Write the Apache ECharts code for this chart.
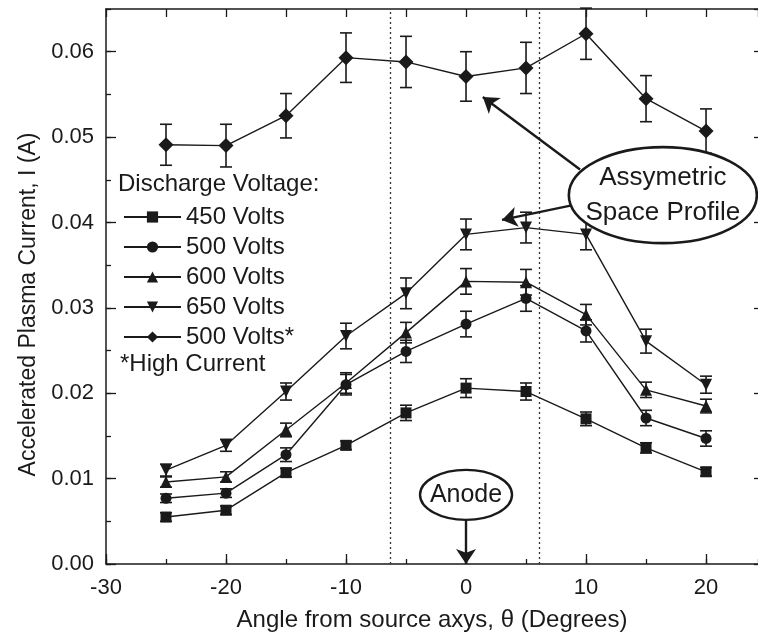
<!DOCTYPE html>
<html>
<head>
<meta charset="utf-8">
<script src="https://cdn.jsdelivr.net/npm/echarts@6/dist/echarts.min.js"></script>
<style>
html,body{margin:0;padding:0;background:#fff;}
#chart{width:758px;height:641px;}
</style>
</head>
<body>
<div id="chart"></div>
<script>
// ---- data ----
const angles = [-25, -20, -15, -10, -5, 0, 5, 10, 15, 20];
const v450   = [0.0055, 0.0063, 0.0107, 0.0139, 0.0177, 0.0206, 0.0202, 0.0170, 0.0136, 0.0108];
const e450   = [0.0005, 0.0005, 0.0005, 0.0005, 0.0009, 0.0011, 0.0010, 0.0008, 0.0006, 0.0005];
const v500   = [0.0077, 0.0083, 0.0128, 0.0210, 0.0249, 0.0281, 0.0311, 0.0273, 0.0171, 0.0147];
const e500   = [0.0005, 0.0005, 0.0008, 0.0012, 0.0013, 0.0015, 0.0015, 0.0013, 0.0009, 0.0009];
const v600   = [0.0096, 0.0102, 0.0157, 0.0212, 0.0271, 0.0331, 0.0330, 0.0292, 0.0204, 0.0185];
const e600   = [0.0006, 0.0006, 0.0008, 0.0012, 0.0012, 0.0015, 0.0015, 0.0012, 0.0009, 0.0008];
const v650   = [0.0110, 0.0139, 0.0202, 0.0267, 0.0317, 0.0386, 0.0394, 0.0386, 0.0261, 0.0210];
const e650   = [0.0007, 0.0007, 0.0010, 0.0015, 0.0018, 0.0018, 0.0018, 0.0018, 0.0014, 0.0010];
const v500hc = [0.0491, 0.0490, 0.0525, 0.0593, 0.0588, 0.0571, 0.0581, 0.0621, 0.0545, 0.0507];
const e500hc = [0.0024, 0.0025, 0.0026, 0.0029, 0.0030, 0.0029, 0.0030, 0.0030, 0.0027, 0.0026];
const seriesNames = ['450 Volts', '500 Volts', '600 Volts', '650 Volts', '500 Volts*'];
const xTickLabels = [-30, -20, -10, 0, 10, 20];
const yTickLabels = [0, 0.01, 0.02, 0.03, 0.04, 0.05, 0.06];
const boundaryAngles = [-6.3, 6.1];
const xTitle = 'Angle from source axys, \u03B8 (Degrees)';
const yTitle = 'Accelerated Plasma Current, I (A)';
const legendTitle = 'Discharge Voltage:';
const legendNote = '*High Current';
const noteAnode = 'Anode';
const noteProfile = 'Assymetric\nSpace Profile';
// annotation anchors in data units
const anodeCenter = [0, 0.0081];
const anodeArrow = [[0, 0.0052], [0, 0.0]];
const profileCenter = [16.4, 0.0432];
const profileArrow1 = [[9.5, 0.0462], [1.4, 0.0547]];
const profileArrow2 = [[8.8, 0.0420], [3.0, 0.0403]];

const FONT = 'Liberation Sans, Arial, Helvetica, sans-serif';
const INK = '#1a1a1a';

const chart = echarts.init(document.getElementById('chart'), null, {renderer: 'canvas'});

function pairs(vals, errs) {
  return angles.map((a, i) => errs ? [a, vals[i], errs[i]] : [a, vals[i]]);
}

const symbols = [
  {symbol: 'rect', size: 11, rotate: 0},
  {symbol: 'circle', size: 11, rotate: 0},
  {symbol: 'triangle', size: 12, rotate: 0},
  {symbol: 'triangle', size: 12, rotate: 180},
  {symbol: 'diamond', size: 15, rotate: 0}
];
const vals = [v450, v500, v600, v650, v500hc];
const errs = [e450, e500, e600, e650, e500hc];

function errRender(params, api) {
  const x = api.value(0), y = api.value(1), e = api.value(2);
  const t = api.coord([x, y + e]);
  const b = api.coord([x, y - e]);
  const hw = 6;
  const st = {stroke: INK, lineWidth: 1.6};
  return {
    type: 'group',
    children: [
      {type: 'line', shape: {x1: t[0], y1: t[1], x2: b[0], y2: b[1]}, style: st},
      {type: 'line', shape: {x1: t[0] - hw, y1: t[1], x2: t[0] + hw, y2: t[1]}, style: st},
      {type: 'line', shape: {x1: b[0] - hw, y1: b[1], x2: b[0] + hw, y2: b[1]}, style: st}
    ]
  };
}

const series = [];
vals.forEach((v, k) => {
  series.push({
    type: 'custom',
    name: 'err' + k,
    xAxisIndex: 0, yAxisIndex: 0,
    renderItem: errRender,
    data: pairs(v, errs[k]),
    z: 3,
    silent: true
  });
});
vals.forEach((v, k) => {
  const s = {
    type: 'line',
    name: seriesNames[k],
    xAxisIndex: 0, yAxisIndex: 0,
    data: pairs(v),
    symbol: symbols[k].symbol,
    symbolSize: symbols[k].size,
    symbolRotate: symbols[k].rotate,
    showAllSymbol: true,
    lineStyle: {color: INK, width: 1.4},
    itemStyle: {color: INK, borderWidth: 0},
    z: 4,
    silent: true
  };
  if (k === 0) {
    s.markLine = {
      silent: true, symbol: 'none', animation: false,
      label: {show: false},
      lineStyle: {color: '#333', width: 1.3, type: [2, 3]},
      data: boundaryAngles.map(a => ({xAxis: a}))
    };
  }
  if (k === 4) {
    s.markLine = {
      silent: true, animation: false,
      symbol: ['none', 'arrow'], symbolSize: 15,
      label: {show: false},
      lineStyle: {color: INK, width: 2.4, type: 'solid'},
      data: [
        [{coord: profileArrow1[0]}, {coord: profileArrow1[1]}],
        [{coord: profileArrow2[0]}, {coord: profileArrow2[1]}],
        [{coord: anodeArrow[0]}, {coord: anodeArrow[1]}]
      ]
    };
  }
  series.push(s);
});

const axLine = {show: true, onZero: false, lineStyle: {color: INK, width: 1.5}};
const noLine = {show: false, onZero: false};
const tickStyle = {color: INK, width: 1.3};
const X_MIN = -30, X_MAX = 24.33, Y_MIN = 0, Y_MAX = 0.065;

const option = {
  animation: false,
  backgroundColor: '#fff',
  textStyle: {fontFamily: FONT},
  grid: {left: 106, right: 0, top: 9, bottom: 77, containLabel: false},
  legend: {
    data: seriesNames,
    orient: 'vertical',
    left: 118, top: 200,
    itemWidth: 57, itemHeight: 14, itemGap: 6,
    textStyle: {fontSize: 24, color: INK, fontFamily: FONT},
    selectedMode: false
  },
  xAxis: [
    {
      type: 'value', position: 'bottom', min: X_MIN, max: X_MAX, interval: 10,
      axisLine: axLine,
      axisTick: {show: true, inside: true, length: 10, lineStyle: tickStyle},
      axisLabel: {show: true, fontSize: 22, color: INK, margin: 13, fontFamily: FONT,
        showMaxLabel: false,
        formatter: v => xTickLabels.indexOf(v) >= 0 ? String(v) : ''},
      splitLine: {show: false},
      name: xTitle, nameLocation: 'middle', nameGap: 44,
      nameTextStyle: {fontSize: 24, color: INK, fontFamily: FONT}
    },
    {
      type: 'value', position: 'bottom', min: X_MIN, max: X_MAX, interval: 5,
      axisLine: noLine,
      axisTick: {show: true, inside: true, length: 5, lineStyle: tickStyle},
      axisLabel: {show: false}, splitLine: {show: false}
    },
    {
      type: 'value', position: 'top', min: X_MIN, max: X_MAX, interval: 5,
      axisLine: axLine,
      axisTick: {show: true, inside: true, length: 8, lineStyle: tickStyle},
      axisLabel: {show: false}, splitLine: {show: false}
    }
  ],
  yAxis: [
    {
      type: 'value', position: 'left', min: Y_MIN, max: Y_MAX, interval: 0.01,
      axisLine: axLine,
      axisTick: {show: true, inside: true, length: 10, lineStyle: tickStyle},
      axisLabel: {show: true, fontSize: 22, color: INK, margin: 12, fontFamily: FONT,
        showMaxLabel: false,
        formatter: v => v.toFixed(2)},
      splitLine: {show: false},
      name: yTitle, nameLocation: 'middle', nameGap: 60, nameRotate: 90,
      nameTextStyle: {fontSize: 23, color: INK, fontFamily: FONT, padding: [0, 36, 0, 0]}
    },
    {
      type: 'value', position: 'left', min: Y_MIN, max: Y_MAX, interval: 0.005,
      axisLine: noLine,
      axisTick: {show: true, inside: true, length: 5, lineStyle: tickStyle},
      axisLabel: {show: false}, splitLine: {show: false}
    },
    {
      type: 'value', position: 'right', min: Y_MIN, max: Y_MAX, interval: 0.01,
      axisLine: noLine,
      axisTick: {show: true, inside: true, length: 4, lineStyle: tickStyle},
      axisLabel: {show: false}, splitLine: {show: false}
    }
  ],
  series: series
};

chart.setOption(option);

// annotations placed from data coordinates
const pA = chart.convertToPixel({gridIndex: 0}, anodeCenter);
const pP = chart.convertToPixel({gridIndex: 0}, profileCenter);
const pLegTop = 185, pLegNote = 365;
chart.setOption({
  graphic: [
    {type: 'text', left: 118, top: pLegTop - 13, z: 10,
      style: {text: legendTitle, fontSize: 24, fill: INK, fontFamily: FONT}},
    {type: 'text', left: 120, top: pLegNote - 13, z: 10,
      style: {text: legendNote, fontSize: 24, fill: INK, fontFamily: FONT}},
    {type: 'ellipse', z: 10,
      shape: {cx: pA[0], cy: pA[1], rx: 46, ry: 25},
      style: {fill: '#fff', stroke: INK, lineWidth: 2.4}},
    {type: 'text', z: 11, x: pA[0], y: pA[1],
      style: {text: noteAnode, fontSize: 25, fill: INK, fontFamily: FONT,
        align: 'center', verticalAlign: 'middle'}},
    {type: 'ellipse', z: 10,
      shape: {cx: pP[0], cy: pP[1], rx: 94, ry: 48},
      style: {fill: '#fff', stroke: INK, lineWidth: 2.6}},
    {type: 'text', z: 11, x: pP[0], y: pP[1],
      style: {text: noteProfile, fontSize: 26, lineHeight: 35, fill: INK, fontFamily: FONT,
        align: 'center', verticalAlign: 'middle'}}
  ]
});
</script>
</body>
</html>
